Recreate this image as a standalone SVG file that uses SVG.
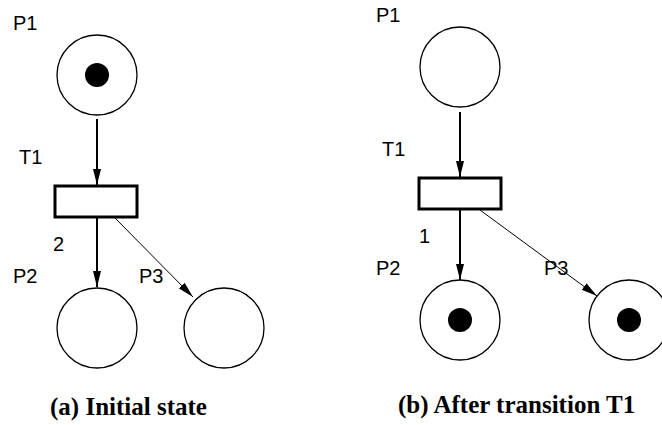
<svg xmlns="http://www.w3.org/2000/svg" width="662" height="425" viewBox="0 0 662 425">
<style>
.place{fill:#fff;stroke:#000;stroke-width:1.3}
.token{fill:#000}
.trans{fill:#fff;stroke:#000;stroke-width:3}
.lbl{font-family:"Liberation Sans",Arial,sans-serif;font-size:20px;fill:#000}
.cap{font-family:"Liberation Serif","Times New Roman",serif;font-size:25px;font-weight:bold;fill:#000}
.arc{stroke:#000;fill:none}
.thick{stroke-width:2}
.thin{stroke-width:1}
</style>
<defs>
<marker id="ah" markerUnits="userSpaceOnUse" markerWidth="16" markerHeight="10" refX="16" refY="5" orient="auto">
<path d="M0,1 L16,5 L0,9 Z" fill="#000"/>
</marker>
</defs>
<rect width="662" height="425" fill="#fff"/>
<g id="connectors">
<line class="arc thick" x1="97" y1="119" x2="97" y2="185" marker-end="url(#ah)"/>
<line class="arc thick" x1="97" y1="218" x2="97" y2="287" marker-end="url(#ah)"/>
<line class="arc thin" x1="114" y1="217" x2="193" y2="297" marker-end="url(#ah)"/>
<line class="arc thick" x1="460" y1="112" x2="460" y2="177" marker-end="url(#ah)"/>
<line class="arc thick" x1="460" y1="210" x2="460" y2="280" marker-end="url(#ah)"/>
<line class="arc thin" x1="480" y1="210" x2="597" y2="296" marker-end="url(#ah)"/>
</g>
<g id="a-P1"><circle class="place" cx="97" cy="75" r="40"/><circle class="token" cx="97" cy="75" r="12"/><text class="lbl" x="13" y="30">P1</text></g>
<g id="a-T1"><rect class="trans" x="55" y="186" width="82" height="31"/><text class="lbl" x="19" y="164">T1</text><text class="lbl" x="53" y="251">2</text></g>
<g id="a-P2"><circle class="place" cx="97" cy="328" r="40"/><text class="lbl" x="13" y="283">P2</text></g>
<g id="a-P3"><circle class="place" cx="224" cy="328" r="40"/><text class="lbl" x="139" y="283">P3</text></g>
<text class="cap" x="50" y="415">(a) Initial state</text>
<g id="b-P1"><circle class="place" cx="460" cy="67" r="40"/><text class="lbl" x="376" y="22">P1</text></g>
<g id="b-T1"><rect class="trans" x="419" y="178" width="82" height="31"/><text class="lbl" x="382" y="156">T1</text><text class="lbl" x="419" y="243">1</text></g>
<g id="b-P2"><circle class="place" cx="460" cy="320" r="40"/><circle class="token" cx="460" cy="320" r="12"/><text class="lbl" x="376" y="275">P2</text></g>
<g id="b-P3"><circle class="place" cx="629" cy="320" r="40"/><circle class="token" cx="629" cy="320" r="12"/><text class="lbl" x="544" y="275">P3</text></g>
<text class="cap" x="398" y="413">(b) After transition T1</text>
</svg>
